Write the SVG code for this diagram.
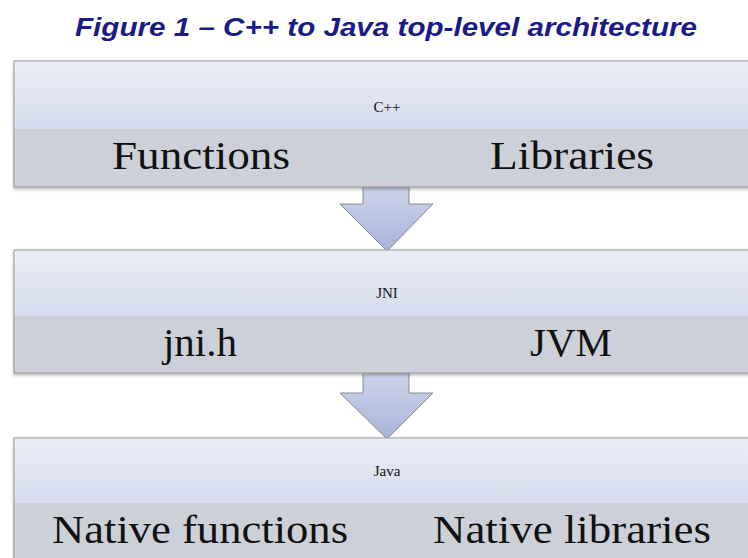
<svg xmlns="http://www.w3.org/2000/svg" width="748" height="558" viewBox="0 0 748 558">
  <defs>
    <linearGradient id="topGrad" x1="0" y1="0" x2="0" y2="1">
      <stop offset="0" stop-color="#eaedf6"/>
      <stop offset="1" stop-color="#d6dcee"/>
    </linearGradient>
    <linearGradient id="arrowGrad" x1="0" y1="0" x2="0" y2="1">
      <stop offset="0" stop-color="#ccd3ea"/>
      <stop offset="1" stop-color="#a8b4d8"/>
    </linearGradient>
    <filter id="shadow" x="-5%" y="-10%" width="110%" height="130%">
      <feDropShadow dx="0" dy="2" stdDeviation="1.5" flood-color="#000" flood-opacity="0.25"/>
    </filter>
  </defs>
  <style>
    .title { font-family: "Liberation Sans", "DejaVu Sans", sans-serif; font-weight: bold; font-style: italic; font-size: 25px; fill: #1a1a88; }
    .frame { fill: #cdd0d8; stroke: #9c9c9c; stroke-width: 1.2; }
    .top { fill: url(#topGrad); }
    .small { font-family: "Liberation Serif", "DejaVu Serif", serif; font-size: 15px; fill: #111; text-anchor: middle; }
    .big { font-family: "Liberation Serif", "DejaVu Serif", serif; font-size: 41px; fill: #111; text-anchor: middle; }
    .arrow { fill: url(#arrowGrad); stroke: #8a8a8a; stroke-width: 1; stroke-linejoin: miter; }
  </style>
  <rect width="748" height="558" fill="#ffffff"/>
  <text class="title" x="386" y="36" text-anchor="middle" textLength="622" lengthAdjust="spacingAndGlyphs">Figure 1 – C++ to Java top-level architecture</text>

  <g id="connectors">
    <path class="arrow" d="M363 187 L409 187 L409 204 L433 204 L387 251 L340 204 L363 204 Z"/>
    <path class="arrow" d="M363 373 L409 373 L409 393 L433 393 L387 439 L340 393 L363 393 Z"/>
  </g>

  <g id="node-cpp">
    <rect class="frame" x="14" y="61" width="746" height="126" filter="url(#shadow)"/>
    <rect class="top" x="14.6" y="61.6" width="745" height="67.4"/>
    <text class="small" x="387" y="112">C++</text>
    <text class="big" x="201" y="169" textLength="178" lengthAdjust="spacingAndGlyphs">Functions</text>
    <text class="big" x="572" y="169" textLength="164" lengthAdjust="spacingAndGlyphs">Libraries</text>
  </g>

  <g id="node-jni">
    <rect class="frame" x="14" y="250" width="746" height="123" filter="url(#shadow)"/>
    <rect class="top" x="14.6" y="250.6" width="745" height="65"/>
    <text class="small" x="387" y="298">JNI</text>
    <text class="big" x="200" y="356">jni.h</text>
    <text class="big" x="571" y="356">JVM</text>
  </g>

  <g id="node-java">
    <rect class="frame" x="14" y="438" width="746" height="140" filter="url(#shadow)"/>
    <rect class="top" x="14.6" y="438.6" width="745" height="64.4"/>
    <text class="small" x="387" y="476">Java</text>
    <text class="big" x="200" y="543" textLength="296" lengthAdjust="spacingAndGlyphs">Native functions</text>
    <text class="big" x="572" y="543" textLength="278" lengthAdjust="spacingAndGlyphs">Native libraries</text>
  </g>
</svg>
